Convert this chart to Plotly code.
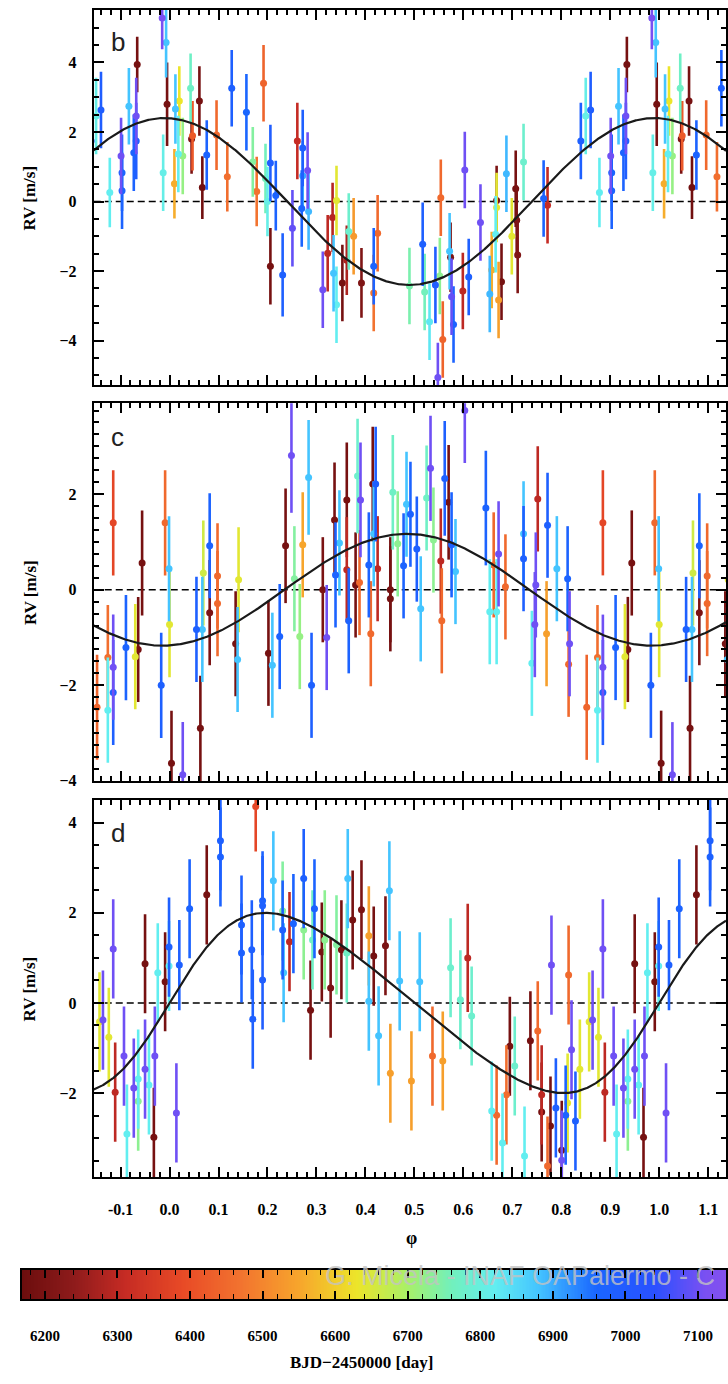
import numpy as np
import plotly.graph_objects as go
from plotly.colors import sample_colorscale

W, H = 728, 1384

# ---------------- colour scale (BJD-2450000 -> colour) ----------------
cs_bjd = [6168, 6240, 6310, 6390, 6470, 6550, 6630, 6700, 6760, 6820, 6880, 6960, 7040, 7110, 7140]
cs_col = ["#6b0d0d", "#8e1b1b", "#c52b24", "#e84a26", "#f2732f", "#f7a52c", "#ece52a",
          "#a8f068", "#72f0bc", "#62eef0", "#44c4ff", "#1a66ff", "#2a50ff", "#7a50f2", "#8450ee"]
BJD_MIN, BJD_MAX = 6168, 7140
colorscale = [[(b - BJD_MIN) / (BJD_MAX - BJD_MIN), c] for b, c in zip(cs_bjd, cs_col)]

cbar_ticks = [6200, 6300, 6400, 6500, 6600, 6700, 6800, 6900, 7000, 7100]
x_ticks = [-0.1, 0.0, 0.1, 0.2, 0.3, 0.4, 0.5, 0.6, 0.7, 0.8, 0.9, 1.0, 1.1]

# ---------------- panel b ----------------
b_phase = [0.012, 0.020, 0.010, 0.018, 0.027, 0.043, 0.061, 0.047, 0.045, 0.067,
           0.076, 0.096, 0.118, 0.127, 0.157, 0.192, 0.170, 0.178, 0.196, 0.206,
           0.261, 0.272, 0.282, 0.272, 0.200, 0.217, 0.206, 0.231, 0.251, 0.270,
           0.284, 0.313, 0.323, 0.333, 0.341, 0.335, 0.341, 0.353, 0.366, 0.376,
           0.392, 0.362, 0.425, 0.417, 0.417, 0.490, 0.517, 0.521, 0.531, 0.543,
           0.552, 0.558, 0.548, 0.572, 0.574, 0.576, 0.580, 0.599, 0.611, 0.635,
           0.654, 0.658, 0.666, 0.672, 0.678, 0.699, 0.711, 0.709, 0.764, 0.772,
           0.554, 0.668, 0.668, 0.707, 0.878, 0.903, 0.603, 0.688, 0.723, 0.840,
           0.850, 0.860, 0.901, 0.903, 0.917, 0.934, 0.932, 0.932, 0.927, 0.985,
           0.993, 0.995, 0.987]
b_rv = [2.66, 2.89, 0.51, 1.37, 1.31, 3.26, 2.89, 1.89, 1.80, 0.40,
        1.34, 1.91, 0.71, 3.26, 2.57, 3.40, 1.14, 0.29, 0.66, 1.11,
        1.74, 1.54, 0.89, 0.74, 0.00, 0.17, -1.86, -2.11, -0.77, -0.20,
        -0.29, -2.54, -1.49, -0.46, 0.03, -2.06, -2.97, -2.34, -0.86, -1.00,
        -2.34, -1.69, -0.91, -1.86, -2.63, -2.43, -1.23, -2.60, -3.46, -2.40,
        -2.14, -3.97, -5.06, -1.43, -1.60, -2.74, -3.54, -2.57, -2.17, -0.60,
        -2.66, -1.97, -0.94, -2.83, -2.31, -1.00, -1.54, -0.54, 0.09, -0.11,
        0.11, -0.17, 0.03, 0.37, 0.26, 0.31, 0.91, 0.80, 1.14, 1.74,
        2.46, 2.63, 1.31, 0.83, 2.74, 3.94, 2.46, 1.74, 1.40, 5.28,
        4.57, 2.80, 0.83]
b_err = [1.0, 1.0, 1.0, 1.1, 1.1, 1.0, 1.0, 1.0, 1.0, 0.9,
         1.0, 1.0, 1.0, 1.1, 1.1, 1.1, 1.0, 1.0, 1.0, 1.1,
         1.1, 1.1, 1.1, 1.0, 1.0, 1.0, 1.1, 1.2, 1.1, 1.1,
         1.1, 1.1, 1.1, 1.0, 1.0, 1.1, 1.1, 1.1, 1.1, 1.1,
         1.0, 1.0, 1.1, 1.1, 1.1, 1.1, 1.2, 1.1, 1.1, 1.1,
         1.1, 1.1, 1.0, 1.1, 1.0, 1.1, 1.1, 1.1, 1.1, 1.1,
         1.1, 1.1, 1.1, 1.1, 1.1, 1.1, 1.1, 1.0, 1.1, 1.1,
         1.1, 1.0, 1.0, 1.1, 1.0, 1.1, 1.1, 1.1, 1.1, 1.1,
         1.1, 1.1, 1.1, 1.1, 1.1, 0.8, 1.1, 1.1, 1.1, 0.9,
         1.0, 1.2, 1.1]
b_bjd = [6880, 6630, 6560, 6820, 6720, 6770, 6190, 6420, 6200, 6180,
         6970, 6450, 6460, 6980, 6960, 6440, 6740, 6470, 6760, 6990,
         6310, 6980, 7100, 6900, 6810, 6970, 6190, 6980, 7090, 6960,
         6890, 7100, 6300, 6290, 6640, 6880, 6820, 6190, 6780, 6530,
         6210, 6280, 6450, 6970, 6470, 6750, 6980, 6760, 6830, 6990,
         6730, 6440, 7100, 6880, 6200, 7090, 6970, 6300, 6980, 7100,
         6890, 6560, 6820, 6540, 6190, 6640, 6210, 6200, 6970, 6310,
         6450, 6640, 6200, 6190, 6820, 6970, 7100, 6890, 6780, 6980,
         6810, 6990, 7100, 6960, 6880, 6190, 7100, 6990, 6970, 7110,
         6880, 6190, 6810]

# ---------------- panel c ----------------
c_phase = [0.069, 0.082, 0.098, 0.141, 0.237, 0.249, 0.284, 0.272, 0.255, 0.313,
           0.337, 0.347, 0.339, 0.362, 0.362, 0.384, 0.390, 0.380, 0.388, 0.000,
           0.004, 0.027, 0.055, 0.067, 0.063, 0.082, 0.098, 0.139, 0.135, 0.210,
           0.202, 0.225, 0.266, 0.290, 0.321, 0.366, 0.415, 0.421, 0.417, 0.407,
           0.425, 0.456, 0.466, 0.451, 0.484, 0.492, 0.478, 0.533, 0.525, 0.505,
           0.539, 0.562, 0.570, 0.554, 0.576, 0.584, 0.603, 0.646, 0.672, 0.662,
           0.686, 0.723, 0.723, 0.752, 0.748, 0.772, 0.791, 0.813, 0.411, 0.451,
           0.513, 0.556, 0.654, 0.668, 0.746, 0.740, 0.770, 0.817, 0.815, 0.852,
           0.874, 0.874, 0.885, 0.885, 0.911, 0.930, 0.936, 0.983, 0.885, 0.944,
           0.991, 0.999]
c_rv = [0.35, 0.92, 0.29, 0.21, 0.92, 2.81, 2.35, 0.94, 0.23, 0.00,
        1.46, 0.98, 0.31, 1.88, 0.42, 2.38, 1.88, 0.10, 0.15, -0.73,
        -3.63, -3.87, -0.83, -0.83, -2.90, -0.48, -0.29, -1.46, -1.13, -1.58,
        -1.33, -0.98, -0.98, -2.00, -1.00, -0.65, 2.21, 2.21, 1.17, 0.52,
        0.44, 2.04, 0.96, 0.00, 1.79, 1.58, 0.50, 2.54, 1.92, 0.85,
        1.04, 2.33, 1.83, 0.60, 0.94, 0.38, 3.75, 1.71, 0.75, 0.52,
        0.06, 1.17, 0.65, 1.90, 0.10, 1.35, 0.44, 0.23, -0.92, -0.19,
        -0.40, -0.65, -0.46, -0.46, -0.73, -1.54, -0.92, -1.13, -1.56, -2.46,
        -1.42, -2.52, -1.62, -2.15, -1.21, -1.40, -1.25, -2.00, 1.40, 0.56,
        1.40, 0.44]
c_err = [1.1, 1.1, 1.1, 1.1, 1.2, 1.2, 1.2, 1.1, 1.1, 1.1,
         1.2, 1.1, 1.1, 1.2, 1.1, 1.2, 1.2, 1.1, 1.1, 1.1,
         1.1, 1.1, 1.1, 1.1, 1.1, 1.1, 1.1, 1.1, 1.1, 1.1,
         1.1, 1.1, 1.1, 1.1, 1.1, 1.1, 1.2, 1.2, 1.1, 1.1,
         1.1, 1.2, 1.1, 1.1, 1.1, 1.1, 1.1, 1.1, 1.1, 1.1,
         1.1, 1.2, 1.2, 1.1, 1.1, 1.1, 1.1, 1.2, 1.1, 1.1,
         1.1, 1.1, 1.1, 1.1, 1.1, 1.1, 1.1, 1.1, 1.1, 1.1,
         1.1, 1.1, 1.1, 1.1, 1.1, 1.1, 1.1, 1.1, 1.1, 1.1,
         1.1, 1.1, 1.1, 1.1, 1.1, 1.1, 1.1, 1.1, 1.1, 1.1,
         1.1, 1.1]
c_bjd = [6660, 6970, 6450, 6640, 6190, 7100, 6880, 6550, 6740, 6200,
         6190, 6880, 6970, 6190, 6300, 6780, 7100, 6190, 6450, 6640,
         6190, 7100, 6980, 6880, 6190, 6200, 6450, 6880, 6190, 6880,
         6190, 6970, 6720, 6980, 7100, 6970, 6190, 6980, 6880, 6970,
         6300, 6770, 6730, 6190, 6880, 6970, 6970, 7100, 6770, 6980,
         6730, 6980, 6190, 6300, 6970, 6880, 7100, 6970, 7100, 6450,
         6450, 6880, 6980, 6300, 7100, 6980, 6880, 6970, 6450, 6190,
         6880, 6450, 6820, 6820, 7100, 6820, 6540, 7100, 6450, 6440,
         6460, 6820, 7100, 6980, 6970, 6640, 6190, 6980, 6380, 6190,
         6450, 6880]

# ---------------- panel d ----------------
d_phase = [0.999, 0.999, 0.020, 0.041, 0.076, 0.104, 0.104, 0.176, 0.147, 0.147,
           0.168, 0.190, 0.190, 0.190, 0.212, 0.231, 0.233, 0.253, 0.245, 0.231,
           0.274, 0.296, 0.274, 0.292, 0.311, 0.329, 0.317, 0.341, 0.351, 0.362,
           0.364, 0.374, 0.392, 0.407, 0.417, 0.441, 0.449, 0.470, 0.511, 0.574,
           0.609, 0.780, 0.815, 0.170, 0.288, 0.407, 0.427, 0.451, 0.494, 0.537,
           0.558, 0.594, 0.617, 0.658, 0.668, 0.688, 0.680, 0.705, 0.695, 0.725,
           0.737, 0.752, 0.760, 0.760, 0.778, 0.772, 0.789, 0.801, 0.801, 0.809,
           0.813, 0.821, 0.829, 0.838, 0.864, 0.876, 0.889, 0.907, 0.913, 0.927,
           0.936, 0.936, 0.950, 0.958, 0.970, 0.968, 0.014, 0.885, 0.950, 0.976,
           0.991, 0.857]
d_rv = [1.24, 0.82, 0.84, 2.09, 2.40, 3.60, 3.24, 4.36, 1.73, 1.11,
        1.18, 2.27, 2.16, 0.51, 2.71, 1.62, 0.67, 1.76, 1.36, 2.04,
        2.76, 2.09, 1.62, 1.40, 1.13, 0.33, 1.40, 1.29, 1.18, 1.11,
        2.76, 1.84, 2.07, 1.49, 1.04, 1.27, 2.49, 0.49, 0.47, 0.78,
        1.00, 0.84, 0.62, -0.36, -0.16, 0.04, -0.73, -1.56, -1.73, -1.18,
        -1.29, 0.07, -0.29, -2.40, -2.49, -2.04, -3.11, -1.40, -0.96, -3.40,
        -0.84, -0.62, -2.04, -2.42, -2.73, -3.62, -2.33, -3.27, -3.49, -2.49,
        -2.22, -1.04, -2.62, -1.47, -0.38, -0.76, -1.98, -1.18, -2.91, -1.89,
        -1.69, -2.18, -1.47, -1.82, -1.18, -2.98, -2.44, 1.20, 0.87, 0.67,
        0.47, -0.42]
d_err = [1.1, 1.0, 1.0, 1.1, 1.1, 1.1, 1.1, 1.0, 1.1, 1.1,
         1.1, 1.1, 1.1, 1.1, 1.1, 1.1, 1.1, 1.1, 1.1, 1.1,
         1.1, 1.1, 1.1, 1.1, 1.1, 1.1, 1.1, 1.1, 1.1, 1.1,
         1.1, 1.1, 1.1, 1.1, 1.1, 1.1, 1.1, 1.1, 1.1, 1.1,
         1.2, 1.1, 1.1, 1.1, 1.1, 1.1, 1.1, 1.1, 1.1, 1.1,
         1.1, 1.1, 1.1, 1.1, 1.1, 1.1, 1.1, 1.1, 1.1, 1.1,
         1.1, 1.1, 1.1, 1.1, 1.1, 1.1, 1.1, 1.1, 1.1, 1.1,
         1.1, 1.1, 1.1, 1.1, 1.1, 1.1, 1.1, 1.1, 1.1, 1.1,
         1.1, 1.1, 1.1, 1.1, 1.1, 1.1, 1.1, 1.1, 1.1, 1.1,
         1.1, 1.1]
d_bjd = [6980, 6820, 6980, 6970, 6190, 6980, 6970, 6380, 6980, 6970,
         6980, 6970, 6980, 6990, 6880, 6980, 6880, 6970, 6300, 6740,
         6980, 6970, 6730, 6770, 6190, 6200, 6730, 6740, 6190, 6770,
         6880, 6190, 6200, 6540, 6190, 6200, 6880, 6880, 6880, 6780,
         6300, 7100, 6450, 6980, 6190, 6880, 6880, 6540, 6540, 6450,
         6540, 6780, 6780, 6820, 6450, 6460, 6820, 6780, 6190, 6820,
         6190, 6450, 6300, 6190, 6190, 6450, 6980, 6190, 7100, 6970,
         6640, 7100, 6980, 6640, 7100, 6640, 6300, 7100, 6820, 7100,
         6820, 6730, 7100, 6820, 7100, 6190, 7100, 7100, 6190, 6820,
         6190, 6640]

# ---------------- orbital models ----------------
b_K, b_phi0 = 2.4, -0.01
c_K, c_phi0 = -1.17, -0.015
d_K, d_e = 2.0, 0.17

# ---------------- geometry (pixels -> paper) ----------------
XMIN, XMAX = (94 - 170) / 491.0, (728 - 170) / 491.0
def py(p):
    return 1 - p / H
X_DOM = [94 / W, 1.0]
panels = [
    dict(name="b", ph=b_phase, rv=b_rv, er=b_err, bj=b_bjd, dom=[py(388), py(10)],
         yr=[-5.29, 5.51], minor=0.5, lab_y=42),
    dict(name="c", ph=c_phase, rv=c_rv, er=c_err, bj=c_bjd, dom=[py(786), py(406)],
         yr=[-4.0, 3.9], minor=0.25, lab_y=440),
    dict(name="d", ph=d_phase, rv=d_rv, er=d_err, bj=d_bjd, dom=[py(1185), py(805)],
         yr=[-3.87, 4.51], minor=0.5, lab_y=838),
]

def colour_of(t):
    return sample_colorscale(colorscale, [(t - BJD_MIN) / (BJD_MAX - BJD_MIN)])[0]

fig = go.Figure()

phi_grid = np.linspace(XMIN, XMAX, 800)

def kepler_rv(phi, K, e):
    M = 2 * np.pi * phi
    E = M.copy()
    for _ in range(60):
        E = E - (E - e * np.sin(E) - M) / (1 - e * np.cos(E))
    nu = 2 * np.arctan2(np.sqrt(1 + e) * np.sin(E / 2), np.sqrt(1 - e) * np.cos(E / 2))
    return K * np.sin(nu)

models = [
    b_K * np.cos(2 * np.pi * (phi_grid - b_phi0)),
    c_K * np.cos(2 * np.pi * (phi_grid - c_phi0)),
    kepler_rv(phi_grid, d_K, d_e),
]

tick_font = dict(family="Liberation Serif", size=16, color="black", weight=700)
axis_common = dict(showline=True, linecolor="black", linewidth=2, mirror="ticks",
                   ticks="inside", tickcolor="black", tickwidth=1.5, ticklen=10,
                   zeroline=False, showgrid=False, tickfont=tick_font)

annotations = []
for i, P in enumerate(panels):
    sfx = "" if i == 0 else str(i + 1)
    xa, ya = "x" + sfx, "y" + sfx
    pts = {}
    for p, r, e, t in zip(P["ph"], P["rv"], P["er"], P["bj"]):
        for k in (-1, 0, 1):
            q = p + k
            if XMIN - 0.02 <= q <= XMAX + 0.02:
                pts.setdefault(t, []).append((q, r, e))
    fig.add_trace(go.Scatter(x=[XMIN, XMAX], y=[0, 0], mode="lines",
                             line=dict(color="black", width=1.6, dash="7px,4px"),
                             xaxis=xa, yaxis=ya, showlegend=False, hoverinfo="skip"))
    for t in sorted(pts):
        col = colour_of(t)
        xs = [a[0] for a in pts[t]]
        ys = [a[1] for a in pts[t]]
        es = [a[2] for a in pts[t]]
        fig.add_trace(go.Scatter(x=xs, y=ys, mode="markers",
                                 marker=dict(color=col, size=7, line=dict(width=0)),
                                 error_y=dict(type="data", array=es, color=col,
                                              thickness=2.6, width=0),
                                 xaxis=xa, yaxis=ya, showlegend=False, hoverinfo="skip"))
    fig.add_trace(go.Scatter(x=phi_grid, y=models[i], mode="lines",
                             line=dict(color="#1a1a1a", width=2.2),
                             xaxis=xa, yaxis=ya, showlegend=False, hoverinfo="skip"))
    xkw = dict(axis_common, domain=X_DOM, range=[XMIN, XMAX], tickmode="array",
               tickvals=x_ticks, ticktext=["%.1f" % v for v in x_ticks],
               showticklabels=(i == 2), anchor=ya, ticklabelstandoff=17,
               minor=dict(dtick=0.02, tick0=0, ticklen=5, ticks="inside",
                          tickcolor="black", tickwidth=1.5))
    ykw = dict(axis_common, domain=P["dom"], range=P["yr"], dtick=2, tick0=0,
               anchor=xa, ticklabelstandoff=12,
               minor=dict(dtick=P["minor"], tick0=0, ticklen=5, ticks="inside",
                          tickcolor="black", tickwidth=1.5))
    fig.update_layout(**{"xaxis" + sfx: xkw, "yaxis" + sfx: ykw})
    annotations.append(dict(text=P["name"], x=118 / W, y=py(P["lab_y"]), xref="paper",
                            yref="paper", showarrow=False, xanchor="center", yanchor="middle",
                            font=dict(family="Liberation Sans", size=26, color="#222")))
    ymid = (P["dom"][0] + P["dom"][1]) / 2
    annotations.append(dict(text="<b>RV [m/s]</b>", x=30 / W, y=ymid, xref="paper",
                            yref="paper", showarrow=False, textangle=-90,
                            xanchor="center", yanchor="middle",
                            font=dict(family="Liberation Serif", size=17, color="black")))

# ---------------- colour bar as a heat strip ----------------
cb_x = list(np.arange(6150, 7160, 2))
fig.add_trace(go.Heatmap(x=cb_x, y=[0.5], z=[cb_x], colorscale=colorscale,
                         zmin=BJD_MIN, zmax=BJD_MAX, showscale=False,
                         xaxis="x4", yaxis="y4", hoverinfo="skip"))
CB_LEFT = 22
px_per_day = (700 - 45) / 900.0
cb_lo = 6200 - (45 - CB_LEFT) / px_per_day
cb_hi = cb_lo + (W - CB_LEFT) / px_per_day
fig.update_layout(
    xaxis4=dict(axis_common, domain=[CB_LEFT / W, 1.0], range=[cb_lo, cb_hi],
                tickmode="array", tickvals=cbar_ticks, ticktext=[str(v) for v in cbar_ticks],
                anchor="y4", ticklen=8, ticklabelstandoff=22,
                tickfont=dict(family="Liberation Serif", size=15, color="black", weight=700),
                minor=dict(dtick=20, tick0=6200, ticklen=5, ticks="inside",
                           tickcolor="black", tickwidth=1.2)),
    yaxis4=dict(domain=[py(1308), py(1278)], range=[0, 1], showticklabels=False,
                ticks="", showline=True, linecolor="black", linewidth=2, mirror=True,
                showgrid=False, zeroline=False, anchor="x4"),
)

annotations += [
    dict(text="<b>φ</b>", x=413 / W, y=py(1246), xref="paper", yref="paper",
         showarrow=False, xanchor="center", yanchor="middle",
         font=dict(family="Liberation Serif", size=18, color="black")),
    dict(text="<b>BJD−2450000 [day]</b>", x=362 / W, y=py(1371), xref="paper", yref="paper",
         showarrow=False, xanchor="center", yanchor="middle",
         font=dict(family="Liberation Serif", size=17, color="black")),
    dict(text="G. Micela - INAF OAPalermo - C", x=324 / W, y=py(1284), xref="paper",
         yref="paper", showarrow=False, xanchor="left", yanchor="middle",
         font=dict(family="Liberation Sans", size=27, color="rgba(195,195,195,0.8)")),
]

fig.update_layout(width=W, height=H, margin=dict(l=0, r=0, t=0, b=0),
                  paper_bgcolor="white", plot_bgcolor="white",
                  annotations=annotations, showlegend=False)

fig.write_html("out.html")
